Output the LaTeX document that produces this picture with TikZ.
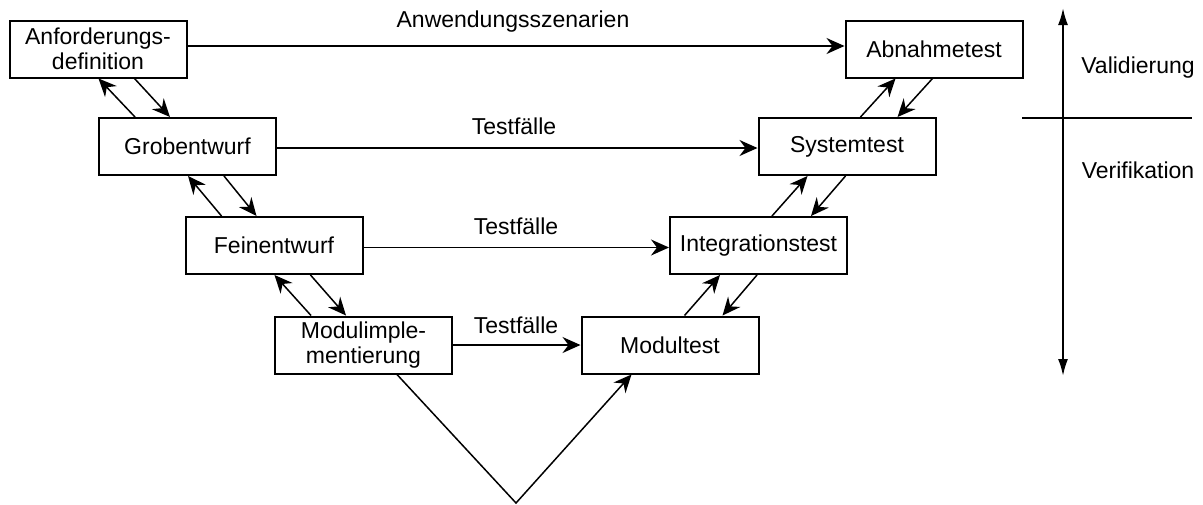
\documentclass[tikz,border=0pt]{standalone}
\usepackage{fontspec}
\setmainfont{Liberation Sans}
\usetikzlibrary{arrows.meta}
\begin{document}
\begin{tikzpicture}[x=0.5pt,y=-0.5pt,
  every node/.style={font=\fontsize{11.5}{12.5}\selectfont},
  phase/.style={draw, line width=1pt, minimum width=88.5pt, minimum height=28.5pt,
    align=center, inner sep=2pt},
  flow/.style={line width=0.75pt, -{Stealth[length=9pt,width=8pt,inset=3pt]}},
  axis/.style={line width=1pt, {Latex[length=8.5pt,width=5pt]}-{Latex[length=8.5pt,width=5pt]}},
  lbl/.style={inner sep=1pt}]
\useasboundingbox (0,0) rectangle (1203,504);

% Left branch: specification and design
\node[phase] (anf)  at (98,49)     {Anforderungs-\\definition};
\node[phase] (grob) at (187.5,146.5) {Grobentwurf};
\node[phase] (fein) at (274,245.5) {Feinentwurf};
\node[phase] (modi) at (363.5,345) {Modulimple-\\mentierung};

% Right branch: testing
\node[phase] (abn)   at (934,49)     {Abnahmetest};
\node[phase] (sys)   at (847,146.5)  {Systemtest};
\node[phase] (integ) at (758.5,245.5)  {Integrationstest};
\node[phase] (modt)  at (670,345)    {Modultest};

% Horizontal test-case links
\draw[flow] ([yshift=1.5pt]anf.east) -- ([yshift=1.5pt]abn.west);
\node[lbl] (lanw) at (513,22) {Anwendungsszenarien};
\draw[flow] ([yshift=-0.75pt]grob.east) -- ([yshift=-0.75pt]sys.west);
\node[lbl] (ltf1) at (514,126) {Testfälle};
\draw[flow] ([yshift=-1pt]fein.east) -- ([yshift=-1pt]integ.west);
\node[lbl] (ltf2) at (516,226) {Testfälle};
\draw[flow] (modi.east) -- (modt.west);
\node[lbl] (ltf3) at (516,325) {Testfälle};

% Feedback between neighbouring design phases (left)
\draw[flow] ([xshift=18.5pt]grob.north west) -- ([xshift=45pt]anf.south west);
\draw[flow] ([xshift=63pt]anf.south west) -- ([xshift=36pt]grob.north west);
\draw[flow] ([xshift=18.5pt]fein.north west) -- ([xshift=45pt]grob.south west);
\draw[flow] ([xshift=63pt]grob.south west) -- ([xshift=36pt]fein.north west);
\draw[flow] ([xshift=18.5pt]modi.north west) -- ([xshift=45pt]fein.south west);
\draw[flow] ([xshift=63pt]fein.south west) -- ([xshift=36pt]modi.north west);

% Feedback between neighbouring test phases (right)
\draw[flow] ([xshift=51.5pt]sys.north west) -- ([xshift=25.5pt]abn.south west);
\draw[flow] ([xshift=44pt]abn.south west) -- ([xshift=70pt]sys.north west);
\draw[flow] ([xshift=51.5pt]integ.north west) -- ([xshift=25pt]sys.south west);
\draw[flow] ([xshift=44pt]sys.south west) -- ([xshift=71pt]integ.north west);
\draw[flow] ([xshift=52pt]modt.north west) -- ([xshift=25.5pt]integ.south west);
\draw[flow] ([xshift=44pt]integ.south west) -- ([xshift=71pt]modt.north west);

% Implementation to module test
\coordinate (vtip) at (516,503);
\draw[flow] ([xshift=61.5pt]modi.south west) -- (vtip) -- ([xshift=25.5pt]modt.south west);

% Validation / verification axis
\coordinate (atop) at (1063,8);
\coordinate (abot) at (1063,376);
\coordinate (sepl) at (1022,118);
\coordinate (sepr) at (1192,118);
\draw[axis] (abot) -- (atop);
\draw[line width=0.9pt] (sepl) -- (sepr);
\node[lbl] (val) at (1138,68)  {Validierung};
\node[lbl] (ver) at (1138,170) {Verifikation};
\end{tikzpicture}
\end{document}
